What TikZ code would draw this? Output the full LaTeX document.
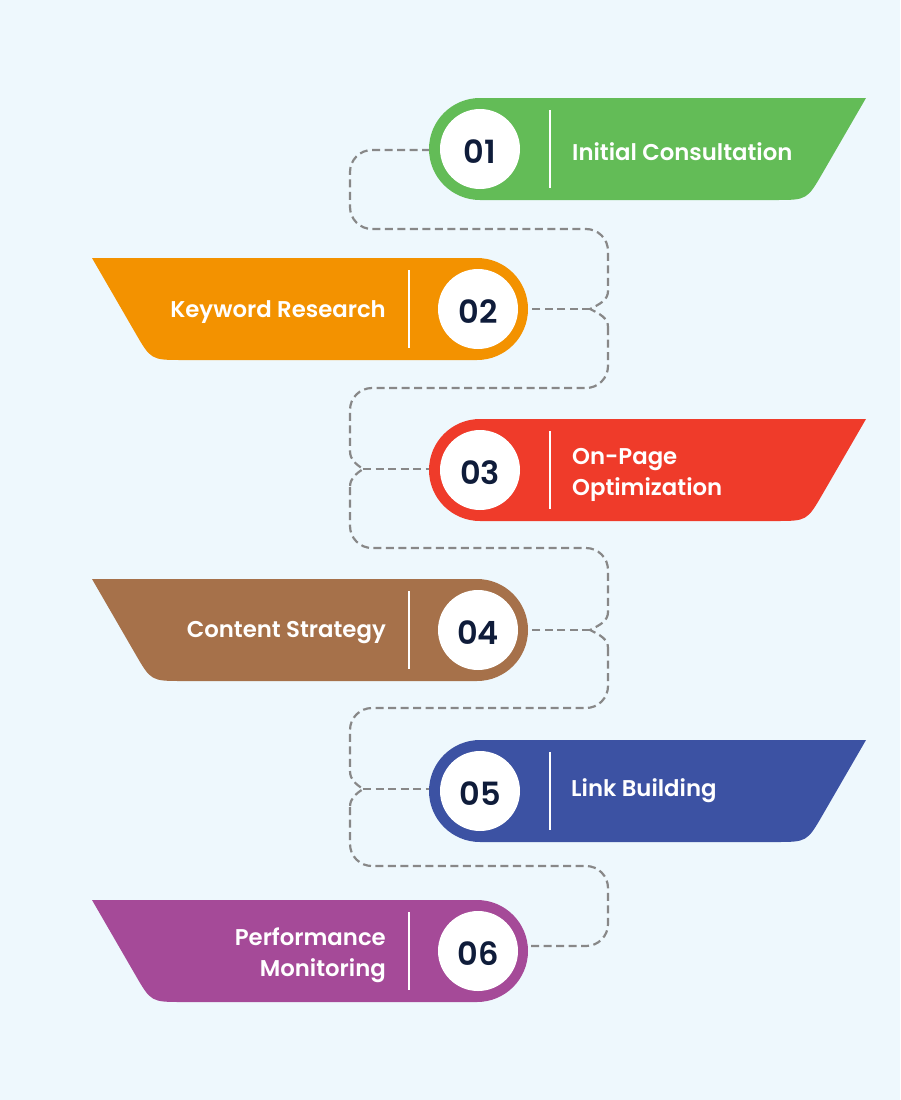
\documentclass[tikz,border=0pt]{standalone}
\usepackage{fontspec}
\setmainfont{Poppins}
\newfontfamily\lblfont{Poppins SemiBold}
\definecolor{bgc}{HTML}{EEF8FD}
\definecolor{cgreen}{HTML}{63BC57}
\definecolor{corange}{HTML}{F39200}
\definecolor{cred}{HTML}{EF3B2A}
\definecolor{cbrown}{HTML}{A6714A}
\definecolor{cblue}{HTML}{3C52A3}
\definecolor{cpurple}{HTML}{A54A98}
\definecolor{navy}{HTML}{0F1C3A}
\definecolor{dashc}{HTML}{888888}
\newcommand\bannerR[2]{%
  \fill[#1] (480,#2) -- (866,#2) -- (823,#2+74.3) .. controls (807,#2+102) .. (775,#2+102)
    -- (480,#2+102) arc[start angle=90,end angle=270,radius=51] -- cycle;
  \draw[divline] (550,#2+12) -- (550,#2+90);}
\newcommand\bannerL[2]{%
  \fill[#1] (477,#2) -- (92,#2) -- (135,#2+74.3) .. controls (151,#2+102) .. (183,#2+102)
    -- (477,#2+102) arc[start angle=90,end angle=-90,radius=51] -- cycle;
  \draw[divline] (409,#2+12) -- (409,#2+90);}
% brace on the right side at row y=#1, tip named #2
\newcommand\braceR[2]{%
  \draw[conn] (608,#1-18) .. controls (608,#1-9) and (600,#1-5) .. (#2)
    .. controls (600,#1+5) and (608,#1+9) .. (608,#1+18);}
\newcommand\braceL[2]{%
  \draw[conn] (350,#1-18) .. controls (350,#1-9) and (356,#1-5) .. (#2)
    .. controls (356,#1+5) and (350,#1+9) .. (350,#1+18);}
\tikzset{
  conn/.style={draw=dashc, line width=2.2pt, dash pattern=on 8pt off 4.5pt},
  rconn/.style={conn, rounded corners=22pt},
  divline/.style={draw=white, line width=2.8pt},
  numc/.style={circle, fill=white, minimum size=80pt, inner sep=0pt},
  numt/.style={text=navy, inner sep=0pt, font=\fontsize{32}{32}\selectfont\lblfont},
  lbl/.style={text=white, font=\fontsize{22.8}{31}\selectfont\lblfont, inner sep=0pt},
}
\begin{document}
\begin{tikzpicture}[x=1pt,y=-1pt]
\fill[bgc] (0,0) rectangle (900,1100);
\useasboundingbox (0,0) rectangle (900,1100);
% anchor coordinates
\coordinate (c1) at (480,150);
\coordinate (c2) at (477,309);
\coordinate (c3) at (480,469);
\coordinate (c4) at (477,630);
\coordinate (c5) at (480,789);
\coordinate (c6) at (477,946);
\coordinate (t2) at (590,309);
\coordinate (t3) at (363,469);
\coordinate (t4) at (590,630);
\coordinate (t5) at (363,789);
% connectors
\draw[rconn] (c1) -- (350,150) -- (350,229) -- (608,229) -- (608,291);
\braceR{309}{t2}
\draw[rconn] (608,327) -- (608,388) -- (350,388) -- (350,451);
\braceL{469}{t3}
\draw[rconn] (350,487) -- (350,548) -- (608,548) -- (608,612);
\braceR{630}{t4}
\draw[rconn] (608,648) -- (608,708) -- (350,708) -- (350,771);
\braceL{789}{t5}
\draw[rconn] (350,807) -- (350,866) -- (608,866) -- (608,946) -- (c6);
\draw[conn] (t2) -- (c2);
\draw[conn] (t3) -- (c3);
\draw[conn] (t4) -- (c4);
\draw[conn] (t5) -- (c5);
% banners
\bannerR{cgreen}{98}
\bannerL{corange}{258}
\bannerR{cred}{419}
\bannerL{cbrown}{579}
\bannerR{cblue}{740}
\bannerL{cpurple}{900}
% numbers
\node[numc] (n1) at (480,149) {};
\node[numc] (n2) at (478,309) {};
\node[numc] (n3) at (480,470) {};
\node[numc] (n4) at (478,630) {};
\node[numc] (n5) at (480,791) {};
\node[numc] (n6) at (478,951) {};
\node[numt] (d1) at ([yshift=-3pt]n1.center) {01};
\node[numt] (d2) at ([yshift=-3pt]n2.center) {02};
\node[numt] (d3) at ([yshift=-3pt]n3.center) {03};
\node[numt] (d4) at ([yshift=-3pt]n4.center) {04};
\node[numt] (d5) at ([yshift=-3pt]n5.center) {05};
\node[numt] (d6) at ([yshift=-3pt]n6.center) {06};
% labels
\node[lbl, anchor=west] (l1) at (572,152) {Initial Consultation};
\node[lbl, anchor=east] (l2) at (386,312) {Keyword Research};
\node[lbl, anchor=west, align=left] (l3) at (572,475) {On-Page\\Optimization};
\node[lbl, anchor=east] (l4) at (386,633) {Content Strategy};
\node[lbl, anchor=west] (l5) at (571,791) {Link Building};
\node[lbl, anchor=east, align=right] (l6) at (386,955) {Performance\\Monitoring};
\end{tikzpicture}
\end{document}
